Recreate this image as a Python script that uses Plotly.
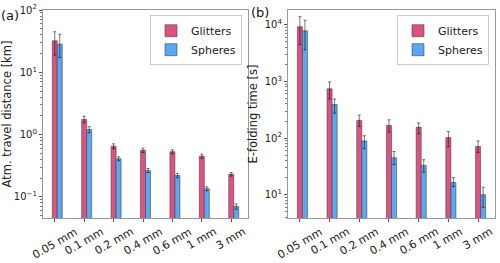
import plotly.graph_objects as go

cats = ["0.05 mm", "0.1 mm", "0.2 mm", "0.4 mm", "0.6 mm", "1 mm", "3 mm"]

# Panel (a): atmospheric travel distance [km]
dist_glitters = [32, 1.75, 0.65, 0.56, 0.53, 0.45, 0.23]
dist_glitters_up = [12.7, 0.22, 0.06, 0.045, 0.04, 0.035, 0.015]
dist_glitters_dn = [13.2, 0.2, 0.06, 0.045, 0.04, 0.035, 0.015]
dist_spheres = [28.3, 1.2, 0.41, 0.265, 0.22, 0.135, 0.07]
dist_spheres_up = [12.5, 0.14, 0.03, 0.02, 0.018, 0.01, 0.007]
dist_spheres_dn = [11.0, 0.13, 0.03, 0.02, 0.018, 0.01, 0.007]

# Panel (b): e-folding time [s]
time_glitters = [9200, 740, 205, 167, 155, 102, 71]
time_glitters_up = [4700, 240, 50, 43, 30, 28, 18]
time_glitters_dn = [4750, 250, 45, 40, 35, 31, 15]
time_spheres = [7800, 390, 89, 45, 33, 16.5, 10]
time_spheres_up = [4200, 100, 21, 13, 8.5, 3.5, 3.6]
time_spheres_dn = [4200, 115, 24, 11, 8, 2.5, 4]

c_gl = "#DE5280"
c_sp = "#58A8F2"
w = 0.17
err_col = "rgba(0,0,0,0.6)"
edge = dict(color="rgba(60,60,60,0.55)", width=1)

fig = go.Figure()

def add(x, y, up, dn, name, color, off, xa, ya, leg):
    fig.add_trace(go.Bar(
        x=x, y=y, name=name, marker=dict(color=color, line=edge),
        width=w, offset=off, xaxis=xa, yaxis=ya, legend=leg,
        error_y=dict(type="data", symmetric=False, array=up, arrayminus=dn,
                     color=err_col, thickness=0.9, width=1.5),
    ))

add(cats, dist_glitters, dist_glitters_up, dist_glitters_dn, "Glitters", c_gl, -w / 2, "x", "y", "legend")
add(cats, dist_spheres, dist_spheres_up, dist_spheres_dn, "Spheres", c_sp, w / 2, "x", "y", "legend")
add(cats, time_glitters, time_glitters_up, time_glitters_dn, "Glitters", c_gl, -w / 2, "x2", "y2", "legend2")
add(cats, time_spheres, time_spheres_up, time_spheres_dn, "Spheres", c_sp, w / 2, "x2", "y2", "legend2")

font = "DejaVu Sans"
axcol = "#999999"

def minor_vals(lo, hi):
    vals = []
    for e in range(lo, hi):
        for m in range(2, 10):
            vals.append(m * 10 ** e)
    return vals

xcommon = dict(type="category", range=[-0.40, 6.57], showline=True, linecolor=axcol,
               linewidth=1.2, mirror=True, ticks="outside", ticklen=3, tickcolor="#555",
               showticklabels=False, showgrid=False, zeroline=False, automargin=False)

ycommon = dict(type="log", showline=True, linecolor=axcol, linewidth=1.2, mirror=True,
               ticks="outside", ticklen=3, tickcolor="#555", tickfont=dict(size=10, color="#222"),
               showgrid=False, zeroline=False, automargin=False)

fig.update_layout(
    width=500, height=263,
    margin=dict(l=0, r=0, t=10, b=45, autoexpand=False),
    paper_bgcolor="white", plot_bgcolor="white",
    barmode="overlay",
    font=dict(family=font, color="#222"),
    xaxis=dict(domain=[43 / 500, 248 / 500], anchor="y", **xcommon),
    xaxis2=dict(domain=[288 / 500, 495 / 500], anchor="y2", **xcommon),
    yaxis=dict(range=[-1.34, 2.0], anchor="x",
               tickvals=[0.1, 1, 10, 100],
               ticktext=["10<sup>−1</sup>", "10<sup>0</sup>", "10<sup>1</sup>", "10<sup>2</sup>"],
               minor=dict(tickvals=minor_vals(-2, 2), ticks="outside", ticklen=2, tickcolor="#777"),
               title=dict(text="Atm. travel distance [km]", font=dict(size=11.5), standoff=4),
               **ycommon),
    yaxis2=dict(range=[0.59, 4.26], anchor="x2",
                tickvals=[10, 100, 1000, 10000],
                ticktext=["10<sup>1</sup>", "10<sup>2</sup>", "10<sup>3</sup>", "10<sup>4</sup>"],
                minor=dict(tickvals=minor_vals(0, 5), ticks="outside", ticklen=2, tickcolor="#777"),
                title=dict(text="E-folding time [s]", font=dict(size=11.5), standoff=4),
                **ycommon),
    legend=dict(x=242 / 500, y=0.975, xanchor="right", yanchor="top",
                bordercolor="#cccccc", borderwidth=1, bgcolor="rgba(255,255,255,0.8)",
                font=dict(size=11), tracegroupgap=0, itemwidth=30),
    legend2=dict(x=489 / 500, y=0.975, xanchor="right", yanchor="top",
                 bordercolor="#cccccc", borderwidth=1, bgcolor="rgba(255,255,255,0.8)",
                 font=dict(size=11), tracegroupgap=0, itemwidth=30),
    showlegend=True,
)

# category labels, rotated and centred under each tick
for xa in ("x", "x2"):
    for c in cats:
        fig.add_annotation(text=c, x=c, xref=xa, y=-6 / 208, yref="paper",
                           xanchor="center", yanchor="top", textangle=-30,
                           showarrow=False, borderpad=0,
                           font=dict(size=11, color="#222"))

fig.add_annotation(text="(a)", xref="paper", yref="paper", x=0, y=1 - 5 / 208,
                   xanchor="left", yanchor="middle", showarrow=False, borderpad=0,
                   font=dict(size=13, color="#111"))
fig.add_annotation(text="(b)", xref="paper", yref="paper", x=250 / 500, y=1 - 3 / 208,
                   xanchor="left", yanchor="middle", showarrow=False, borderpad=0,
                   font=dict(size=13, color="#111"))

fig.write_html(
    "out.html",
    config={"displayModeBar": False},
    post_script="document.body.style.margin='0';document.body.style.overflow='hidden';",
)
